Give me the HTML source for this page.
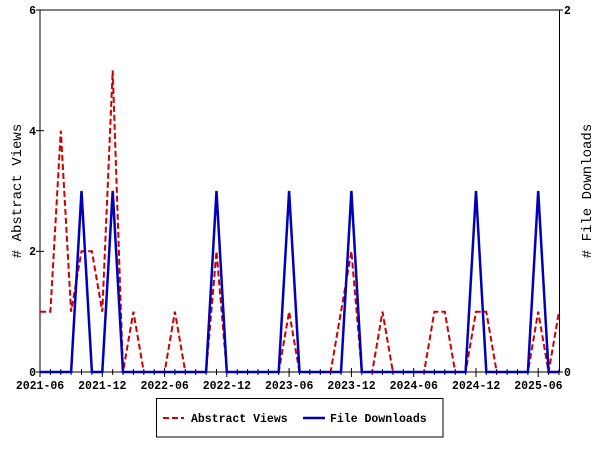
<!DOCTYPE html>
<html><head><meta charset="utf-8"><style>
html,body{margin:0;padding:0;background:#fff;width:600px;height:450px;overflow:hidden}
text{font-family:"Liberation Mono",monospace;font-size:11.5px;font-weight:bold;fill:#000}
</style></head><body>
<svg id="s" width="600" height="450" viewBox="0 0 600 450" xmlns="http://www.w3.org/2000/svg">
<rect x="40" y="10" width="519.5" height="362" fill="none" stroke="#000" stroke-width="1"/>
<g id="ticks" stroke="#000" stroke-width="1"></g>
<polyline id="red" fill="none" stroke="#cc0000" stroke-width="2" stroke-dasharray="6,3"/>
<polyline id="blue" fill="none" stroke="#0000bb" stroke-width="2.5"/>
<text x="36" y="14" text-anchor="end">6</text>
<text x="36" y="135" text-anchor="end">4</text>
<text x="36" y="255" text-anchor="end">2</text>
<text x="36" y="376" text-anchor="end">0</text>
<text x="564" y="14">2</text>
<text x="564" y="376">0</text>
<text x="40" y="389" text-anchor="middle">2021-06</text>
<text x="102.3" y="389" text-anchor="middle">2021-12</text>
<text x="164.6" y="389" text-anchor="middle">2022-06</text>
<text x="226.9" y="389" text-anchor="middle">2022-12</text>
<text x="289.2" y="389" text-anchor="middle">2023-06</text>
<text x="351.5" y="389" text-anchor="middle">2023-12</text>
<text x="413.8" y="389" text-anchor="middle">2024-06</text>
<text x="476.1" y="389" text-anchor="middle">2024-12</text>
<text x="538.4" y="389" text-anchor="middle">2025-06</text>
<text transform="translate(21,191) rotate(-90)" text-anchor="middle" style="font-weight:normal;font-size:14px">#&#160;Abstract&#160;Views</text>
<text transform="translate(591,191) rotate(-90)" text-anchor="middle" style="font-weight:normal;font-size:14px">#&#160;File&#160;Downloads</text>
<rect x="156.5" y="398.5" width="286.5" height="38.5" fill="#fff" stroke="#000"/>
<line x1="163" y1="418" x2="184" y2="418" stroke="#cc0000" stroke-width="2" stroke-dasharray="6,3"/>
<text x="191" y="422">Abstract Views</text>
<line x1="303" y1="418" x2="325" y2="418" stroke="#0000bb" stroke-width="2.5"/>
<text x="330" y="422">File Downloads</text>
</svg>
<script>
var x0=40,dx=10.38,yb=372;
var views=[1,1,4,1,2,2,1,5,0,1,0,0,0,1,0,0,0,2,0,0,0,0,0,0,1,0,0,0,0,1,2,0,0,1,0,0,0,0,1,1,0,0,1,1,0,0,0,0,1,0,1];
var dl=new Array(51).fill(0);[4,7,17,24,30,42,48].forEach(function(i){dl[i]=1});
function pts(a,s){return a.map(function(v,i){return (x0+dx*i).toFixed(1)+","+(yb-v*s).toFixed(1)}).join(" ")}
document.getElementById("red").setAttribute("points",pts(views,60.33));
document.getElementById("blue").setAttribute("points",pts(dl,181));
var g=document.getElementById("ticks"),h="";
for(var i=0;i<=50;i++){var x=(x0+dx*i).toFixed(1);var maj=(i%6==0);
h+='<line x1="'+x+'" y1="'+(maj?yb-4:yb-3)+'" x2="'+x+'" y2="'+(maj?yb+5:yb+3)+'"/>';}
[0,2,4,6].forEach(function(v){var y=yb-v*60.33;h+='<line x1="36" y1="'+y+'" x2="44" y2="'+y+'"/>'});
[0,2].forEach(function(v){var y=yb-v*181;h+='<line x1="555" y1="'+y+'" x2="563" y2="'+y+'"/>'});
g.innerHTML=h;
</script>
</body></html>
